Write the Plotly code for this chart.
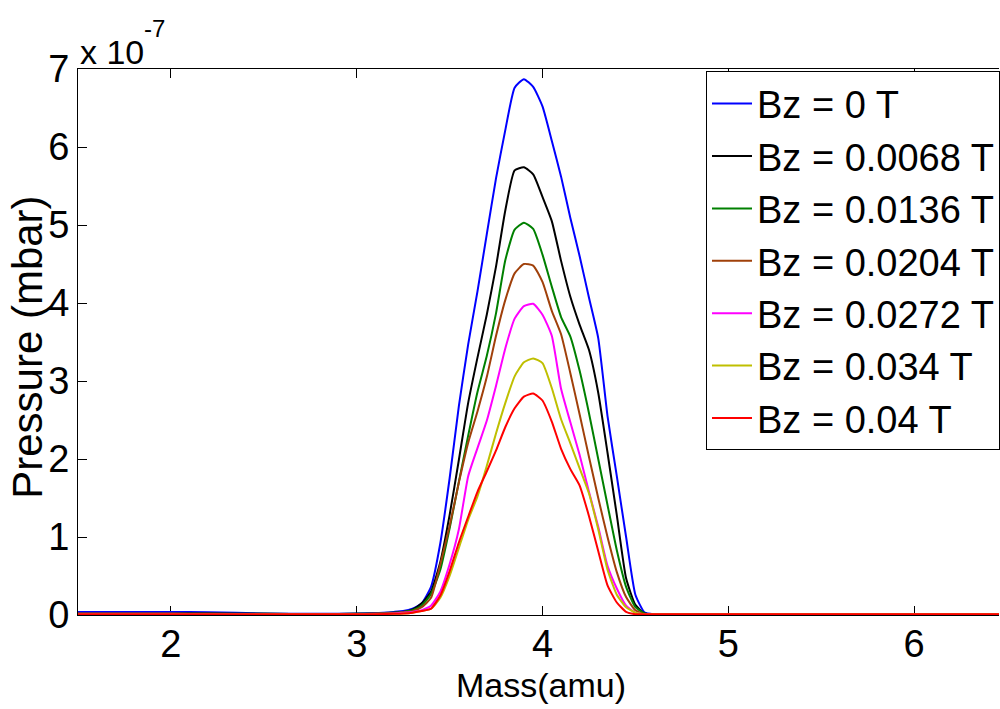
import plotly.graph_objects as go

# Mass axis (amu) shared by all series
mass = [1.5, 2.0, 2.2, 2.5, 2.8, 3.0, 3.1, 3.2, 3.25,
        3.3, 3.35, 3.4, 3.45, 3.5, 3.55, 3.6, 3.65, 3.7, 3.75, 3.8, 3.85, 3.9,
        3.95, 4.0, 4.05, 4.1, 4.15, 4.2, 4.25, 4.3, 4.35, 4.4, 4.45, 4.5, 4.55, 4.6,
        4.8, 5.0, 5.5, 6.0, 6.5]

# Pressure in units of 1e-7 mbar
p_0 = [0.04, 0.04, 0.035, 0.02, 0.015, 0.02, 0.025, 0.04, 0.05,
       0.08, 0.15, 0.36, 0.92, 1.75, 2.68, 3.47, 4.15, 4.88, 5.60, 6.22, 6.76, 6.87,
       6.77, 6.52, 6.08, 5.62, 5.09, 4.60, 4.07, 3.55, 2.55, 1.78, 1.00, 0.26, 0.03, 0.01,
       0.01, 0.01, 0.01, 0.01, 0.01]
p_0068 = [0.02, 0.02, 0.02, 0.015, 0.01, 0.015, 0.02, 0.03, 0.04,
          0.07, 0.15, 0.30, 0.68, 1.28, 1.99, 2.72, 3.30, 3.85, 4.47, 5.19, 5.70, 5.74,
          5.65, 5.36, 5.05, 4.54, 4.08, 3.72, 3.40, 2.85, 2.08, 1.28, 0.47, 0.13, 0.02, 0.01,
          0.01, 0.01, 0.01, 0.01, 0.01]
p_0136 = [0.02, 0.02, 0.015, 0.015, 0.01, 0.015, 0.02, 0.03, 0.04,
          0.06, 0.12, 0.27, 0.58, 1.11, 1.71, 2.30, 2.86, 3.32, 3.87, 4.55, 4.94, 5.03,
          4.95, 4.62, 4.21, 3.82, 3.57, 3.13, 2.59, 2.00, 1.41, 0.83, 0.36, 0.10, 0.02, 0.01,
          0.01, 0.01, 0.01, 0.01, 0.01]
p_0204 = [0.015, 0.015, 0.015, 0.01, 0.01, 0.01, 0.015, 0.025, 0.035,
          0.05, 0.10, 0.22, 0.65, 1.14, 1.70, 2.21, 2.61, 3.05, 3.58, 4.04, 4.38, 4.50,
          4.48, 4.27, 3.90, 3.60, 3.10, 2.57, 2.03, 1.50, 1.00, 0.55, 0.23, 0.06, 0.01, 0.01,
          0.01, 0.01, 0.01, 0.01, 0.01]
p_0272 = [0.015, 0.015, 0.01, 0.01, 0.01, 0.01, 0.015, 0.02, 0.03,
          0.04, 0.06, 0.12, 0.30, 0.65, 1.10, 1.78, 2.14, 2.49, 2.94, 3.42, 3.80, 3.96,
          3.99, 3.85, 3.58, 2.90, 2.47, 2.05, 1.58, 1.13, 0.63, 0.34, 0.12, 0.03, 0.01, 0.01,
          0.01, 0.01, 0.01, 0.01, 0.01]
p_034 = [0.01, 0.01, 0.01, 0.01, 0.01, 0.01, 0.01, 0.015, 0.02,
         0.03, 0.05, 0.08, 0.22, 0.50, 0.86, 1.22, 1.52, 1.91, 2.33, 2.72, 3.06, 3.24,
         3.29, 3.23, 2.91, 2.51, 2.20, 1.88, 1.56, 1.10, 0.58, 0.26, 0.10, 0.03, 0.01, 0.01,
         0.01, 0.01, 0.01, 0.01, 0.01]
p_04 = [0.01, 0.01, 0.01, 0.01, 0.01, 0.01, 0.01, 0.015, 0.02,
        0.03, 0.05, 0.08, 0.25, 0.56, 0.93, 1.26, 1.58, 1.84, 2.11, 2.41, 2.65, 2.80,
        2.84, 2.75, 2.48, 2.13, 1.87, 1.66, 1.27, 0.82, 0.38, 0.16, 0.04, 0.01, 0.01, 0.01,
        0.01, 0.01, 0.01, 0.01, 0.01]

series_names = ["Bz = 0 T", "Bz = 0.0068 T", "Bz = 0.0136 T", "Bz = 0.0204 T",
                "Bz = 0.0272 T", "Bz = 0.034 T", "Bz = 0.04 T"]
series_values = [p_0, p_0068, p_0136, p_0204, p_0272, p_034, p_04]
series_colors = ["#0000FF", "#000000", "#008000", "#A0400A", "#FF00FF", "#BFBF00", "#FF0000"]

x_ticks = [2, 3, 4, 5, 6]
y_ticks = [0, 1, 2, 3, 4, 5, 6, 7]

FONT = "Liberation Sans, Arial, sans-serif"

fig = go.Figure()
for name, vals, col in zip(series_names, series_values, series_colors):
    fig.add_trace(go.Scatter(x=mass, y=vals, mode="lines", name=name,
                             line=dict(color=col, width=2, shape="spline",
                                       smoothing=0.5)))

fig.update_layout(
    width=1000, height=709,
    margin=dict(l=78, r=0, t=69, b=94),
    paper_bgcolor="white", plot_bgcolor="white",
    font=dict(family=FONT, color="black"),
    showlegend=True,
    legend=dict(x=0.6822, y=0.9956, xanchor="left", yanchor="top",
                bgcolor="white", bordercolor="black", borderwidth=1,
                font=dict(size=38, family=FONT, color="black"),
                itemwidth=40, traceorder="normal"),
    xaxis=dict(range=[1.5, 6.457], tickvals=x_ticks, ticks="inside", ticklen=9,
               tickcolor="black", showline=True, linecolor="black", linewidth=1,
               mirror="ticks", showgrid=False, zeroline=False,
               tickfont=dict(size=38, family=FONT, color="black"),
               ticklabelstandoff=-5,
               layer="below traces"),
    yaxis=dict(range=[0, 7], tickvals=y_ticks, ticks="inside", ticklen=9,
               tickcolor="black", showline=True, linecolor="black", linewidth=1,
               showgrid=False, zeroline=False,
               tickfont=dict(size=38, family=FONT, color="black")),
    annotations=[
        dict(text="Mass(amu)", xref="paper", yref="paper", x=0.503, y=-0.128,
             xanchor="center", yanchor="middle", showarrow=False,
             font=dict(size=34, family=FONT, color="black")),
        dict(text="Pressure (mbar)", xref="paper", yref="paper", x=-0.055, y=0.49,
             xanchor="center", yanchor="middle", showarrow=False, textangle=-90,
             font=dict(size=42, family=FONT, color="black")),
        dict(text="x 10", xref="paper", yref="paper", x=0.0, y=1.0,
             xanchor="left", yanchor="bottom", showarrow=False, yshift=-4,
             font=dict(size=34, family=FONT, color="black")),
        dict(text="-7", xref="paper", yref="paper", x=0.0, y=1.0,
             xanchor="left", yanchor="bottom", showarrow=False,
             xshift=64, yshift=25,
             font=dict(size=24, family=FONT, color="black")),
    ],
)

fig.write_html("out.html")
